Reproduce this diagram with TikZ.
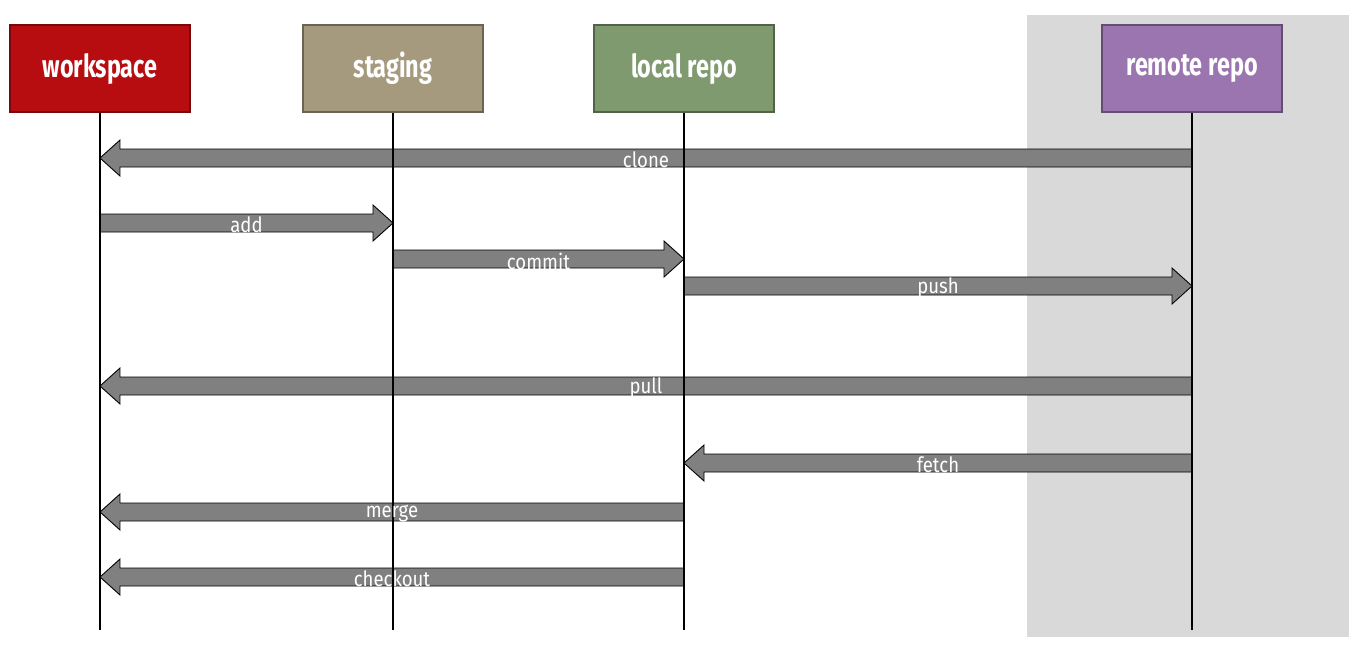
\documentclass[tikz,border=0pt]{standalone}
\usepackage{fontspec}
\newfontfamily\headfont{Fira Sans}[FakeStretch=0.74]
\newfontfamily\msgfont{Fira Sans}[FakeStretch=0.88]
\usetikzlibrary{calc,positioning}
\definecolor{wsred}{RGB}{184,13,16}
\definecolor{stbrown}{RGB}{166,154,126}
\definecolor{lrgreen}{RGB}{126,154,110}
\definecolor{rrpurple}{RGB}{155,117,176}
\definecolor{bggray}{RGB}{217,217,217}
\definecolor{arrowgray}{RGB}{128,128,128}
\tikzset{
	actor/.style={draw=#1!65!black, fill=#1, line width=1pt, minimum width=3.6cm,
		minimum height=1.74cm, text=white, font=\headfont\bfseries\fontsize{18}{20}\selectfont},
	lifeline/.style={line width=0.9pt},
	arrowbody/.style={fill=arrowgray, draw=black, line width=0.5pt},
	msg/.style={text=white, font=\msgfont\fontsize{12}{14}\selectfont}
}

\begin{document}
\begin{tikzpicture}[x=0.02cm, y=-0.02cm]
	\useasboundingbox (0,0) rectangle (1356,654);
	\fill[bggray] (1027,15) rectangle (1349,637);
	% participants
	\node[actor=wsred] (ws) at (100,68.5) {workspace};
	\node[actor=stbrown] (st) at (393,68.5) {staging};
	\node[actor=lrgreen] (lr) at (684,68.5) {local repo};
	\node[actor=rrpurple] (rr) at (1192,68.5) {remote repo};
	% messages
	\foreach \a/\b/\y/\t in {rr/ws/158/clone, ws/st/223/add, st/lr/259/commit, lr/rr/286/push,
		rr/ws/386/pull, rr/lr/463/fetch, lr/ws/512/merge, lr/ws/577/checkout} {
		\coordinate (\t-from) at (\a.south |- 0,\y);
		\coordinate (\t-to) at (\b.south |- 0,\y);
		\coordinate (\t-head) at ($(\t-to)!0.4cm!(\t-from)$);
		\filldraw[arrowbody] ($(\t-from)!0.18cm!90:(\t-to)$) -- ($(\t-head)!0.18cm!90:(\t-to)$)
			-- ($(\t-head)!0.36cm!90:(\t-to)$) -- (\t-to) -- ($(\t-head)!0.36cm!-90:(\t-to)$)
			-- ($(\t-head)!0.18cm!-90:(\t-to)$) -- ($(\t-from)!0.18cm!-90:(\t-to)$) -- cycle;
	}
	% lifelines
	\foreach \n in {ws,st,lr,rr} {
		\coordinate (\n-end) at (\n.south |- 0,630);
		\draw[lifeline] (\n.south) -- (\n-end);
	}
	\foreach \t in {clone,add,commit,push,pull,fetch,merge,checkout}
		\node[msg] (\t-label) at ($(\t-from)!0.5!(\t-to)+(0,2)$) {\t};
\end{tikzpicture}
\end{document}
